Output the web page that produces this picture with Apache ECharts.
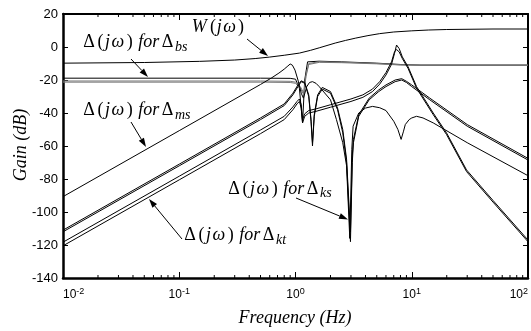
<!DOCTYPE html>
<html>
<head>
<meta charset="utf-8">
<script src="https://cdn.jsdelivr.net/npm/echarts@6/dist/echarts.min.js"></script>
<style>
html,body{margin:0;padding:0;background:#fff;}
#chart{width:531px;height:331px;}
</style>
</head>
<body>
<div id="chart"></div>
<script>
// y ticks and x decades
const yTicks = [-140, -120, -100, -80, -60, -40, -20, 0, 20];
const decades = [0.01, 0.1, 1, 10];
const minorMult = [2, 3, 4, 5, 6, 7, 8, 9];

// W(jw)
const wFreq = [0.01, 0.05, 0.15, 0.3, 0.45, 0.6, 0.8, 1.08, 1.35, 1.6, 2.2, 2.7, 3.3, 4.2, 5.3, 7, 10, 14, 20, 50, 100];
const wGain = [-9.8, -9.4, -8.7, -7.9, -7.0, -6.1, -5.0, -3.7, -2.0, -0.5, 2.4, 4.0, 5.4, 6.9, 8.1, 9.1, 9.8, 10.3, 10.6, 10.9, 10.9];

// flat line near -19
const bsFreq = [0.01, 0.5, 0.9, 1.0, 1.08, 1.15, 1.2, 1.27, 1.6, 2.5, 5, 8, 12, 100];
const bsGain = [-18.9, -18.9, -19.0, -19.5, -25, -46, -20, -9.0, -8.6, -9.0, -9.8, -10.6, -11, -11];

// gray pair near -20.5
const kFreq = [0.01, 0.5, 0.9, 1.0, 1.1, 1.18, 1.23, 1.3, 1.6, 2.5, 5, 8, 12, 100];
const kGainA = [-20.6, -20.6, -20.8, -21.3, -24, -28, -17, -10, -8.9, -9.2, -10, -10.8, -11, -11];
const kGainB = [-21.3, -21.3, -21.5, -22.0, -25, -29, -18, -10.6, -9.3, -9.5, -10.2, -10.9, -11, -11];

// ms curve
const msFreq = [0.01, 0.1, 0.5, 0.62, 0.72, 0.8, 0.86, 0.9, 0.94, 0.99, 1.05, 1.12, 1.17, 1.25, 1.32, 1.4, 1.5, 1.6, 2.0, 2.25, 2.55, 2.75, 2.93, 3.05, 3.13, 3.5, 4.0, 4.6, 5.3, 6.0, 7.0, 7.6, 8.1, 8.5, 8.8, 9.5, 10, 11, 12.5, 15.3, 30, 100];
const msGain = [-90.7, -50.7, -22.7, -18.8, -15.8, -13.4, -11.5, -10.3, -11, -14, -20, -28, -31, -24, -21.5, -21, -22, -24, -32, -44, -58, -72, -116, -62, -48, -40, -37, -36, -36.8, -38.5, -45, -50, -56, -51, -47, -44, -43, -42, -43, -46, -58, -78];

// thick pair from -112
const dFreq = [0.01, 0.1, 0.5, 0.8, 0.95, 1.05, 1.12, 1.2, 1.3, 1.36, 1.40, 1.45, 1.55, 1.7, 2.0, 2.3, 2.55, 2.75, 2.97, 3.08, 3.15, 3.5, 4.3, 5.2, 6.0, 7.2, 8.2, 9.0, 10, 14.3, 30, 100];
const dGainA = [-112, -72, -44, -35.5, -29, -24, -21, -22, -30, -45, -60, -42, -30, -25.5, -28, -38, -52, -70, -118, -70, -58, -42, -32, -27, -24, -21, -20, -21.5, -24, -32, -48, -68.5];
const dGainB = [-111, -71, -43, -34.5, -28, -23, -20.5, -21.5, -29, -44, -58, -41, -29, -24.5, -27, -37, -50, -68, -112, -66, -56, -41, -31, -26, -23, -20, -19.2, -20.8, -23, -31, -47, -67.5];

// gap pair from -120
const eFreq = [0.01, 0.1, 0.5, 0.8, 0.95, 1.03, 1.08, 1.12, 1.15, 1.2, 1.3, 1.5, 2.0, 3.0, 3.8, 4.6, 5.3, 6.0, 6.7, 7.1, 7.4, 7.8, 8.3, 9.3, 11, 15.3, 19.9, 29.6, 50, 100];
const eGainA = [-120.5, -80.5, -52.5, -44, -38, -34.5, -33, -37, -46, -42, -40, -39, -36.5, -33, -30.5, -27, -22.5, -17, -10.5, -4, 1.2, -1, -6, -12, -24, -40, -52, -74.5, -93, -117];
const eGainB = [-118.3, -78.3, -50.3, -42, -36.3, -33, -31.5, -35, -44, -40.5, -38.5, -37.5, -35, -31.5, -29, -25.5, -21, -15.5, -9, -3, -1.5, -3, -7, -13, -25, -41, -53, -75.5, -94, -118];

const SERIF = '"Liberation Serif","Times New Roman",serif';
const SANS = '"Liberation Sans",Arial,sans-serif';

function pairs(f, g) { return f.map((v, i) => [v, g[i]]); }

function curve(f, g, color) {
  return {
    type: 'line', data: pairs(f, g), symbol: 'none', smooth: false,
    lineStyle: { color: color || '#000', width: 1 }, silent: true
  };
}

function txt(x, base, s, size, italic) {
  return {
    type: 'text', silent: true, z: 100,
    style: { text: s, x: x, y: base - 0.34 * size, font: (italic ? 'italic ' : '') + size + 'px ' + SERIF,
      fill: '#000', verticalAlign: 'middle', align: 'left' }
  };
}

function deltaLabel(x0, base, sub) {
  return [
    txt(x0, base, 'Δ', 18, false),
    txt(x0 + 14.3, base, '(', 18, false),
    txt(x0 + 21.7, base, 'j', 18, true),
    txt(x0 + 28.3, base, 'ω', 18, true),
    txt(x0 + 43.5, base, ')', 18, false),
    txt(x0 + 55, base, 'for', 18, true),
    txt(x0 + 78.4, base, 'Δ', 18, false),
    txt(x0 + 91.7, base + 3.5, sub, 14, true)
  ];
}

function arrow(x1, y1, x2, y2) {
  const dx = x2 - x1, dy = y2 - y1, L = Math.hypot(dx, dy), ux = dx / L, uy = dy / L;
  const hl = 9, hw = 3;
  const bx = x2 - ux * hl, by = y2 - uy * hl;
  return [
    { type: 'line', silent: true, z: 100, shape: { x1: x1, y1: y1, x2: bx, y2: by }, style: { stroke: '#000', lineWidth: 1 } },
    { type: 'polygon', silent: true, z: 100,
      shape: { points: [[x2, y2], [bx - uy * hw, by + ux * hw], [bx + uy * hw, by - ux * hw]] },
      style: { fill: '#000' } }
  ];
}

const minorTicks = [];
decades.forEach(d => minorMult.forEach(m => minorTicks.push([m * d, -140])));

const chart = echarts.init(document.getElementById('chart'));

const xBase = {
  type: 'log', logBase: 10, min: 0.01, max: 100, gridIndex: 0,
  splitLine: { show: false },
  axisTick: { inside: true, length: 6, lineStyle: { color: '#000', width: 1 } }
};
const yBase = {
  type: 'value', min: -140, max: 20, interval: 20,
  splitLine: { show: false },
  axisTick: { inside: true, length: 5, lineStyle: { color: '#000', width: 1 } }
};

const graphics = []
  .concat(deltaLabel(83.3, 48.3, 'bs'))
  .concat(deltaLabel(83.3, 116.7, 'ms'))
  .concat(deltaLabel(228.3, 195, 'ks'))
  .concat(deltaLabel(184.3, 241.7, 'kt'))
  .concat([
    txt(191.7, 33.3, 'W', 18, true),
    txt(210, 33.3, '(', 18, false),
    txt(216.7, 33.3, 'j', 18, true),
    txt(223.3, 33.3, 'ω', 18, true),
    txt(238, 33.3, ')', 18, false)
  ])
  .concat(arrow(131, 59, 148, 77))
  .concat(arrow(247, 39, 268, 56))
  .concat(arrow(131, 122, 146, 147))
  .concat(arrow(296, 198, 348, 219.5))
  .concat(arrow(182, 239, 149, 199))
  .concat([
    { type: 'text', x: 21, y: 145, rotation: Math.PI / 2, silent: true,
      style: { text: 'Gain (dB)', font: 'italic 18px ' + SERIF, fill: '#000', align: 'center', verticalAlign: 'middle' } },
    { type: 'text', x: 295, y: 318, silent: true,
      style: { text: 'Frequency (Hz)', font: 'italic 18px ' + SERIF, fill: '#000', align: 'center', verticalAlign: 'middle' } }
  ]);

chart.setOption({
  animation: false,
  backgroundColor: '#fff',
  grid: { left: 63, right: 3, top: 14, bottom: 53 },
  xAxis: [
    Object.assign({}, xBase, {
      position: 'bottom',
      axisLine: { onZero: false, lineStyle: { color: '#000', width: 2.5 } },
      axisLabel: {
        color: '#000', margin: 9, alignMinLabel: 'left', alignMaxLabel: 'right',
        formatter: v => '{b|10}{s|' + Math.round(Math.log10(v)) + '}',
        rich: {
          b: { fontSize: 12, fontFamily: SANS, color: '#000', lineHeight: 16 },
          s: { fontSize: 9, fontFamily: SANS, color: '#000', verticalAlign: 'top', lineHeight: 10 }
        }
      }
    }),
    Object.assign({}, xBase, {
      position: 'top',
      axisLine: { onZero: false, lineStyle: { color: '#000', width: 2 } },
      axisLabel: { show: false }
    })
  ],
  yAxis: [
    Object.assign({}, yBase, {
      position: 'left',
      axisLine: { onZero: false, lineStyle: { color: '#000', width: 2.5 } },
      axisLabel: { color: '#000', fontSize: 13, fontFamily: SANS, margin: 5 }
    }),
    Object.assign({}, yBase, {
      position: 'right',
      axisLine: { onZero: false, lineStyle: { color: '#000', width: 2 } },
      axisLabel: { show: false }
    })
  ],
  series: [
    curve(wFreq, wGain),
    curve(bsFreq, bsGain),
    curve(kFreq, kGainA, '#777'),
    curve(kFreq, kGainB, '#777'),
    curve(msFreq, msGain),
    curve(dFreq, dGainA),
    curve(dFreq, dGainB),
    curve(eFreq, eGainA),
    curve(eFreq, eGainB),
    {
      type: 'custom', data: minorTicks, clip: false, silent: true, encode: { x: 0, y: 1 },
      renderItem: (params, api) => {
        const b = api.coord([api.value(0), -140]);
        const t = api.coord([api.value(0), 20]);
        return {
          type: 'group', children: [
            { type: 'line', shape: { x1: b[0], y1: b[1], x2: b[0], y2: b[1] - 3 }, style: { stroke: '#000', lineWidth: 1 } },
            { type: 'line', shape: { x1: t[0], y1: t[1], x2: t[0], y2: t[1] + 3 }, style: { stroke: '#000', lineWidth: 1 } }
          ]
        };
      }
    }
  ],
  graphic: graphics
});
</script>
</body>
</html>
